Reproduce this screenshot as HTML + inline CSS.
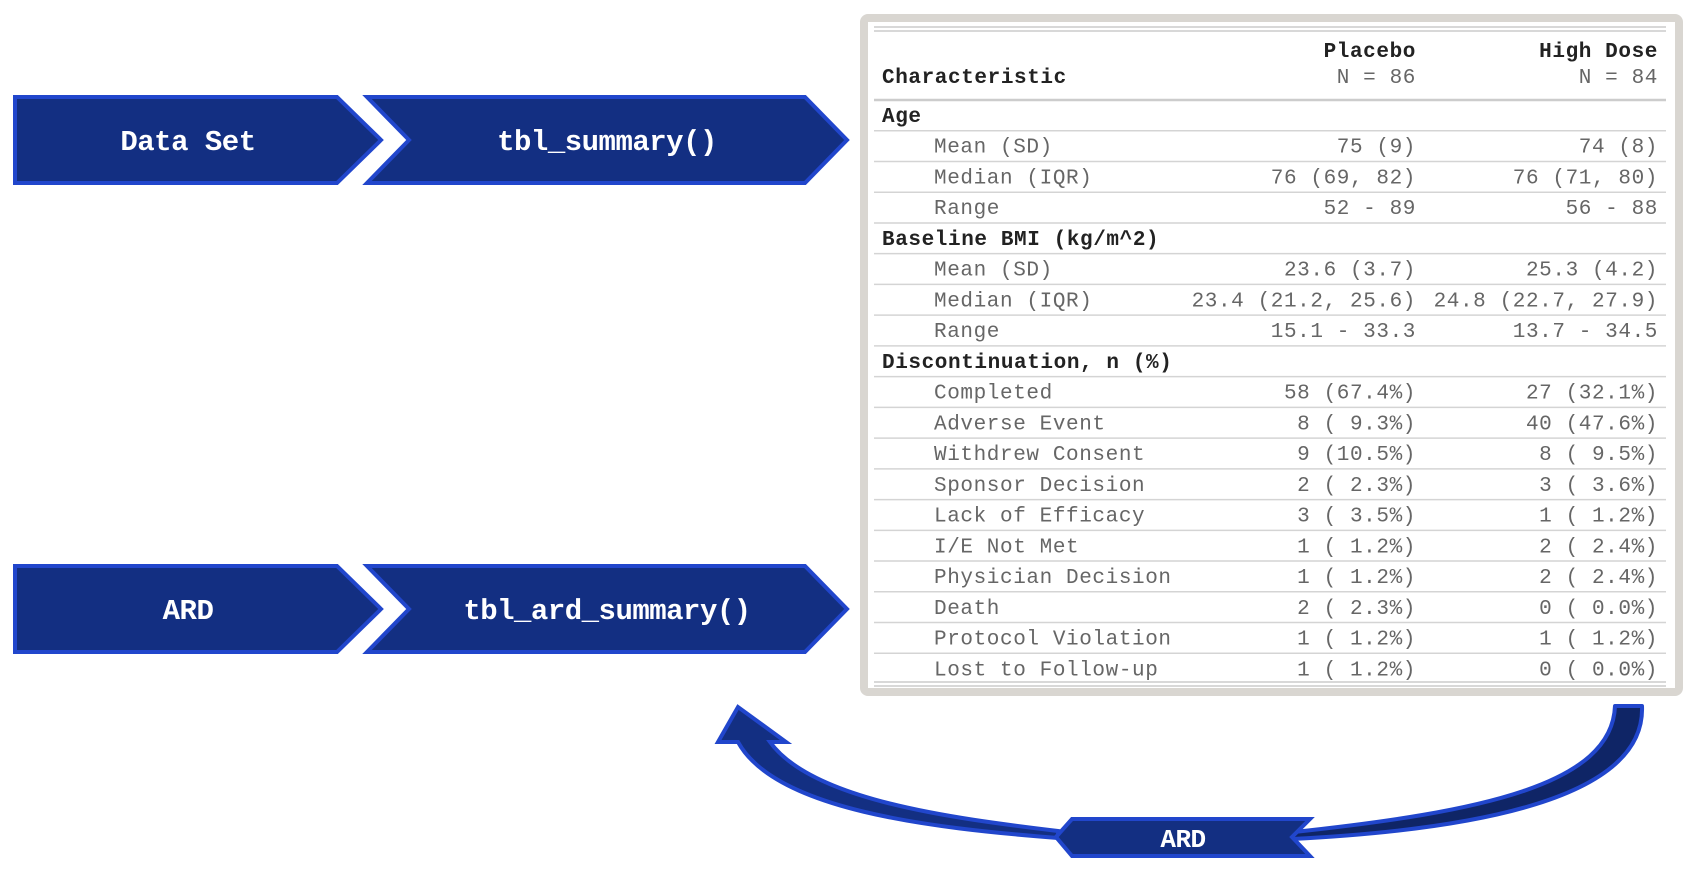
<!DOCTYPE html>
<html><head><meta charset="utf-8"><style>
html,body{margin:0;padding:0;background:#fff;}
svg{display:block}
.b{fill:#132f82;stroke:#2146cc;stroke-width:4;stroke-linejoin:miter}
.bt{font-family:"Liberation Mono",monospace;font-weight:bold;fill:#fff;text-anchor:middle;letter-spacing:-0.5px}
.t{font-family:"Liberation Mono",monospace;font-size:21px;letter-spacing:0.6px;fill:#666}
.h{fill:#222;font-weight:bold}
.r{text-anchor:end}
</style></head><body>
<svg width="1696" height="876" viewBox="0 0 1696 876" xmlns="http://www.w3.org/2000/svg">
<polygon class="b" points="15,97 337,97 381,140 337,183 15,183"/>
<polygon class="b" points="367,97 805,97 847,140 805,183 367,183 409,140"/>
<text class="bt" x="188" y="150" font-size="29">Data Set</text>
<text class="bt" x="607" y="150" font-size="29">tbl_summary()</text>
<polygon class="b" points="15,566 337,566 381,609 337,652 15,652"/>
<polygon class="b" points="367,566 805,566 847,609 805,652 367,652 409,609"/>
<text class="bt" x="188" y="619" font-size="29">ARD</text>
<text class="bt" x="607" y="619" font-size="29">tbl_ard_summary()</text>

<rect x="864" y="18" width="815" height="674" rx="4" fill="#fff" stroke="#d9d6d1" stroke-width="8"/>
<line x1="874" y1="27" x2="1666" y2="27" stroke="#ccc" stroke-width="1.5"/>
<line x1="874" y1="31" x2="1666" y2="31" stroke="#ccc" stroke-width="1.5"/>
<text class="t h r" x="1416" y="57">Placebo</text>
<text class="t h r" x="1658" y="57">High Dose</text>
<text class="t h" x="882" y="83">Characteristic</text>
<text class="t r" x="1416" y="83">N = 86</text>
<text class="t r" x="1658" y="83">N = 84</text>
<line x1="874" y1="100" x2="1666" y2="100" stroke="#ccc" stroke-width="2.5"/>
<g id="rows"></g>
<line x1="874" y1="682" x2="1666" y2="682" stroke="#ccc" stroke-width="1.5"/>
<line x1="874" y1="686" x2="1666" y2="686" stroke="#ccc" stroke-width="1.5"/>

<path d="M1615,706 L1642,706 C1646,800 1470,830 1292,839 L1294,832 C1480,812 1612,785 1615,706 Z" fill="#0f2566" stroke="#2146cc" stroke-width="4" stroke-linejoin="round"/>
<path d="M1058,838 C930,828 775,810 738,742 L718,742 L738,707 L786,742 L770,742 C812,800 950,818 1058,831 Z" fill="#132f82" stroke="#2146cc" stroke-width="4" stroke-linejoin="miter"/>
<polygon class="b" points="1056,837 1072,819 1310,819 1292,837 1310,856 1072,856"/>
<text class="bt" x="1183" y="847" font-size="26">ARD</text>
</svg>
<script>
var rows=[
["Age",1],["Mean (SD)",0,"75 (9)","74 (8)"],["Median (IQR)",0,"76 (69, 82)","76 (71, 80)"],["Range",0,"52 - 89","56 - 88"],
["Baseline BMI (kg/m^2)",1],["Mean (SD)",0,"23.6 (3.7)","25.3 (4.2)"],["Median (IQR)",0,"23.4 (21.2, 25.6)","24.8 (22.7, 27.9)"],["Range",0,"15.1 - 33.3","13.7 - 34.5"],
["Discontinuation, n (%)",1],["Completed",0,"58 (67.4%)","27 (32.1%)"],["Adverse Event",0,"8 ( 9.3%)","40 (47.6%)"],["Withdrew Consent",0,"9 (10.5%)","8 ( 9.5%)"],
["Sponsor Decision",0,"2 ( 2.3%)","3 ( 3.6%)"],["Lack of Efficacy",0,"3 ( 3.5%)","1 ( 1.2%)"],["I/E Not Met",0,"1 ( 1.2%)","2 ( 2.4%)"],["Physician Decision",0,"1 ( 1.2%)","2 ( 2.4%)"],
["Death",0,"2 ( 2.3%)","0 ( 0.0%)"],["Protocol Violation",0,"1 ( 1.2%)","1 ( 1.2%)"],["Lost to Follow-up",0,"1 ( 1.2%)","0 ( 0.0%)"]];
var g=document.getElementById("rows"),ns="http://www.w3.org/2000/svg",h=(684-100)/19;
function tx(x,y,s,c){var t=document.createElementNS(ns,"text");t.setAttribute("x",x);t.setAttribute("y",y);t.setAttribute("class",c);t.style.whiteSpace="pre";t.textContent=s;g.appendChild(t);}
rows.forEach(function(r,i){var top=100+i*h,y=top+22;
if(r[1]){tx(882,y,r[0],"t h");}else{tx(934,y,r[0],"t");tx(1416,y,r[2],"t r");tx(1658,y,r[3],"t r");}
if(i<18){var l=document.createElementNS(ns,"line");l.setAttribute("x1",874);l.setAttribute("x2",1666);l.setAttribute("y1",top+h);l.setAttribute("y2",top+h);l.setAttribute("stroke","#d4d4d4");l.setAttribute("stroke-width","1.5");g.appendChild(l);}
});
</script>
</body></html>
